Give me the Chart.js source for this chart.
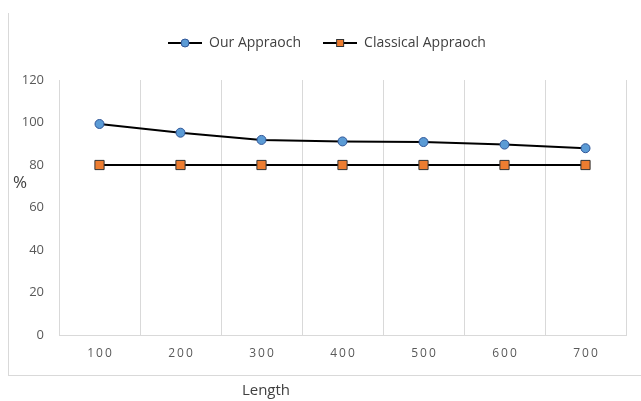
<!DOCTYPE html>
<html>
<head>
<meta charset="utf-8">
<script src="https://cdn.jsdelivr.net/npm/chart.js@4"></script>
<style>
  html, body { margin: 0; padding: 0; background: #ffffff; }
  #wrap { position: relative; width: 641px; height: 401px; overflow: hidden; }
  #frame { position: absolute; left: 8px; top: 13px; width: 640px; height: 362px;
           border-left: 1px solid #d9d9d9; border-bottom: 1px solid #d9d9d9; }
  canvas { position: absolute; left: 0; top: 0; }
</style>
</head>
<body>
<div id="wrap">
  <div id="frame"></div>
  <canvas id="c" width="641" height="401"></canvas>
</div>
<script>
const categories = ['100', '200', '300', '400', '500', '600', '700'];
const ourApproach = [99.3, 95.2, 91.8, 91.1, 90.8, 89.6, 87.9];
const classicalApproach = [80, 80, 80, 80, 80, 80, 80];
const yTicks = [0, 20, 40, 60, 80, 100, 120];
const seriesNames = ['Our Appraoch', 'Classical Appraoch'];
const xTitle = 'Length';
const yTitle = '%';

function legendIcon(kind) {
  const c = document.createElement('canvas');
  c.width = 34; c.height = 12;
  const g = c.getContext('2d');
  g.strokeStyle = '#000000'; g.lineWidth = 2;
  g.beginPath(); g.moveTo(0, 6); g.lineTo(34, 6); g.stroke();
  g.lineWidth = 1;
  if (kind === 'circle') {
    g.fillStyle = '#5B9BD5'; g.strokeStyle = '#2F5597';
    g.beginPath(); g.arc(17, 6, 4, 0, Math.PI * 2); g.fill(); g.stroke();
  } else {
    g.fillStyle = '#ED7D31'; g.strokeStyle = '#333333';
    g.fillRect(13, 2, 8, 8); g.strokeRect(13.5, 2.5, 7, 7);
  }
  return c;
}
const icons = [legendIcon('circle'), legendIcon('rect')];

const extraText = {
  id: 'extraText',
  beforeLayout(chart) {
    const lg = chart.legend;
    if (lg && !lg._patched) {
      const fit = lg.fit;
      lg.fit = function () { fit.call(this); this.height += 20; };
      const draw = lg.draw;
      lg.draw = function () {
        this.ctx.save();
        this.ctx.translate(14, 0);
        draw.call(this);
        this.ctx.restore();
      };
      lg._patched = true;
    }
  },
  afterLayout(chart) {
    const xs = chart.scales.x;
    if (!xs._patched) {
      const orig = xs.drawLabels;
      xs.drawLabels = function (area) {
        const ctx = this.ctx;
        ctx.save();
        ctx.letterSpacing = '2px';
        ctx.translate(1, 0);
        orig.call(this, area);
        ctx.restore();
      };
      xs._patched = true;
    }
  },
  afterDraw(chart) {
    const ctx = chart.ctx;
    const a = chart.chartArea;
    ctx.save();
    ctx.fillStyle = '#404040';
    ctx.textAlign = 'center';
    ctx.textBaseline = 'middle';
    ctx.font = '17px "Open Sans"';
    ctx.fillText(yTitle, 20, a.top + (a.bottom - a.top) * 0.405);
    ctx.font = '15px "Open Sans"';
    ctx.fillText(xTitle, a.left + (a.right - a.left) * 0.365, 391);
    ctx.restore();
  }
};

new Chart(document.getElementById('c'), {
  type: 'line',
  data: {
    labels: categories,
    datasets: [
      {
        label: seriesNames[0],
        data: ourApproach,
        borderColor: '#000000',
        borderWidth: 2,
        pointStyle: 'circle',
        pointRadius: 4.5,
        pointBackgroundColor: '#5B9BD5',
        pointBorderColor: '#2F5597',
        pointBorderWidth: 1,
        tension: 0
      },
      {
        label: seriesNames[1],
        data: classicalApproach,
        borderColor: '#000000',
        borderWidth: 2,
        pointStyle: 'rect',
        pointRadius: 6.5,
        pointBackgroundColor: '#ED7D31',
        pointBorderColor: '#333333',
        pointBorderWidth: 1,
        tension: 0
      }
    ]
  },
  options: {
    responsive: false,
    animation: false,
    layout: { padding: { left: 0, right: 15, top: 14, bottom: 0 } },
    plugins: {
      legend: {
        position: 'top',
        labels: {
          usePointStyle: true,
          pointStyleWidth: 34,
          boxHeight: 12,
          padding: 22,
          color: '#404040',
          font: { family: '"Open Sans"', size: 14 },
          generateLabels(chart) {
            return chart.data.datasets.map((d, i) => ({
              text: d.label,
              pointStyle: icons[i],
              fontColor: '#404040',
              hidden: false,
              datasetIndex: i,
              lineWidth: 0,
              strokeStyle: 'transparent',
              fillStyle: 'transparent'
            }));
          }
        }
      },
      tooltip: { enabled: false },
      title: { display: false }
    },
    scales: {
      x: {
        offset: true,
        grid: { display: true, offset: true, color: '#d9d9d9', lineWidth: 1, drawTicks: false },
        border: { display: true, color: '#d9d9d9', width: 1 },
        ticks: { color: '#595959', font: { family: '"Open Sans"', size: 12 }, padding: 11, maxRotation: 0 },
        afterFit(s) { s.height = 66; }
      },
      y: {
        min: 0,
        max: 120,
        afterBuildTicks(s) { s.ticks = yTicks.map(v => ({ value: v })); },
        grid: { display: false, drawTicks: false },
        border: { display: true, color: '#d9d9d9', width: 1 },
        ticks: { color: '#595959', font: { family: '"Open Sans"', size: 13 }, padding: 15 },
        afterFit(s) { s.width = 59; }
      }
    }
  },
  plugins: [extraText]
});
</script>
</body>
</html>
